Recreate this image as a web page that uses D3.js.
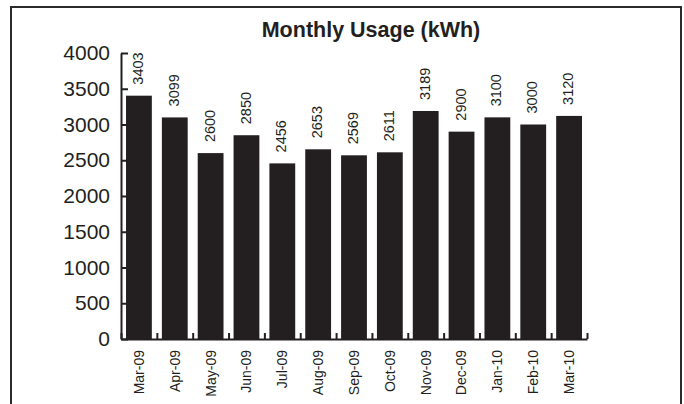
<!DOCTYPE html>
<html>
<head>
<meta charset="utf-8">
<script src="https://cdn.jsdelivr.net/npm/d3@7"></script>
<style>
  body { margin: 0; background: #fff; }
  svg { display: block; font-family: "Liberation Sans", Arial, sans-serif; }
</style>
</head>
<body>
<div id="chart"></div>
<script>
// chart data
const months = ["Mar-09", "Apr-09", "May-09", "Jun-09", "Jul-09", "Aug-09", "Sep-09",
                "Oct-09", "Nov-09", "Dec-09", "Jan-10", "Feb-10", "Mar-10"];
const usage = [3403, 3099, 2600, 2850, 2456, 2653, 2569, 2611, 3189, 2900, 3100, 3000, 3120];
const yTicks = [0, 500, 1000, 1500, 2000, 2500, 3000, 3500, 4000];
const title = "Monthly Usage (kWh)";

const width = 684, height = 404;
const margin = { top: 53, right: 97, bottom: 65, left: 121 };
const ink = "#231f20";

const svg = d3.select("#chart")
  .append("svg")
  .attr("width", width)
  .attr("height", height);

// outer frame
svg.append("rect")
  .attr("x", 11).attr("y", 7)
  .attr("width", 670).attr("height", 420)
  .attr("fill", "none")
  .attr("stroke", "#2b2b2b")
  .attr("stroke-width", 2);

// title
svg.append("text")
  .attr("x", 371).attr("y", 37)
  .attr("text-anchor", "middle")
  .attr("font-size", "21.5px")
  .attr("font-weight", "bold")
  .attr("fill", ink)
  .text(title);

// scales
const x = d3.scaleBand()
  .domain(months)
  .range([margin.left, width - margin.right])
  .paddingInner(0.28)
  .paddingOuter(0.14);

const xEdges = d3.scaleLinear()
  .domain([0, months.length])
  .range([margin.left, width - margin.right]);

const y = d3.scaleLinear()
  .domain([0, 4000])
  .range([height - margin.bottom, margin.top]);

// bars
svg.selectAll(".bar")
  .data(usage)
  .enter()
  .append("rect")
    .attr("class", "bar")
    .attr("x", (d, i) => x(months[i]))
    .attr("y", (d) => y(d))
    .attr("width", x.bandwidth())
    .attr("height", (d) => y(0) - y(d))
    .attr("fill", ink);

// value labels (rotated)
svg.selectAll(".val")
  .data(usage)
  .enter()
  .append("text")
    .attr("class", "val")
    .attr("transform", (d, i) =>
      `translate(${x(months[i]) + x.bandwidth() / 2 - 1},${y(d) - 11}) rotate(-90)`)
    .attr("dy", "0.35em")
    .attr("font-size", "14.5px")
    .attr("fill", ink)
    .text((d) => d);

// y axis, ticks pointing inward
svg.append("g")
  .attr("transform", `translate(${margin.left},0)`)
  .call(d3.axisLeft(y).tickValues(yTicks).tickFormat(d3.format("d"))
          .tickSizeInner(-7).tickSizeOuter(0).tickPadding(11))
  .call((g) => g.selectAll("line, path").attr("stroke", ink).attr("stroke-width", 2))
  .call((g) => g.selectAll("text")
                .attr("font-size", "21px")
                .attr("font-family", "Liberation Sans, Arial, sans-serif")
                .attr("fill", ink));

// x axis line with boundary ticks
svg.append("g")
  .attr("transform", `translate(0,${y(0)})`)
  .call(d3.axisBottom(xEdges).tickValues(d3.range(months.length + 1))
          .tickSizeInner(-6).tickSizeOuter(0).tickFormat(""))
  .call((g) => g.selectAll("line, path").attr("stroke", ink).attr("stroke-width", 2));

// month labels
svg.append("g")
  .attr("transform", `translate(0,${y(0)})`)
  .call(d3.axisBottom(x).tickSize(0).tickPadding(0))
  .call((g) => g.select(".domain").remove())
  .call((g) => g.selectAll("text")
                .attr("transform", "translate(0,11) rotate(-90)")
                .attr("x", 0).attr("y", 0)
                .attr("dy", "0.35em")
                .attr("text-anchor", "end")
                .attr("font-size", "14px")
                .attr("font-family", "Liberation Sans, Arial, sans-serif")
                .attr("fill", ink));
</script>
</body>
</html>
